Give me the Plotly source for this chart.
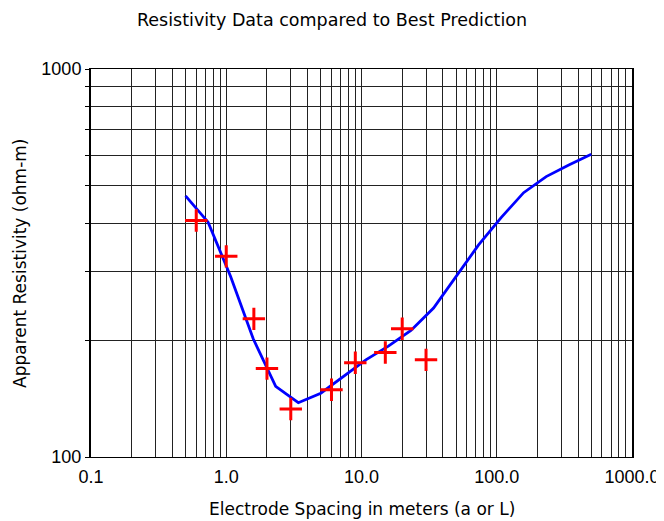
import plotly.graph_objects as go

# measured data (red crosses)
spacing = [0.6, 1.0, 1.6, 2.0, 3.0, 6.0, 9.0, 15.0, 20.0, 30.0]
resistivity = [407, 329, 227, 169, 133, 149, 175, 186, 214, 178]

# best prediction (blue line)
pred_spacing = [0.5, 0.734, 1.077, 1.58, 2.32, 3.41, 5.0, 7.34, 10.77, 15.8,
                23.2, 34.1, 50.0, 73.4, 107.7, 158, 232, 341, 500]
pred_resistivity = [471, 403, 292, 202, 152, 138, 146, 161, 178, 193,
                    212, 242, 291, 352, 414, 480, 528, 566, 603]

mults = [m for e in range(-1, 3) for m in range(1, 10)] + [1]
x_ticks = [m * 10.0 ** e for e in range(-1, 3) for m in range(1, 10)] + [1000.0]
x_text = [("%.1f" % v) if m == 1 else "" for v, m in zip(x_ticks, mults)]
y_ticks = list(range(100, 1001, 100))
y_text = ["100"] + [""] * 8 + ["1000"]

font = "Liberation Sans, Arial, sans-serif"
label_font = "DejaVu Sans, sans-serif"

# the page body adds an 8px margin, so the figure is 8px smaller each way
W, H = 656, 513

fig = go.Figure()

fig.add_trace(go.Scatter(
    x=pred_spacing, y=pred_resistivity,
    mode="lines",
    line=dict(color="#0000ff", width=2.8),
    showlegend=False,
))

fig.add_trace(go.Scatter(
    x=spacing, y=resistivity,
    mode="markers",
    marker=dict(symbol="cross-thin", size=16,
                line=dict(color="#ff0000", width=3)),
    showlegend=False,
))

fig.update_layout(
    width=W, height=H,
    paper_bgcolor="white", plot_bgcolor="white",
    margin=dict(l=83, r=32, t=61, b=64, pad=0),
    font=dict(family=font, color="black"),
    title=dict(text="Resistivity Data compared to Best Prediction",
               x=324 / W, xref="container", xanchor="center",
               y=1 - 12 / H, yref="container", yanchor="middle",
               font=dict(size=17.5, family=label_font)),
    annotations=[
        dict(text="Electrode Spacing in meters (a or L)",
             x=0.5, xref="paper", y=0, yref="paper", yshift=-52,
             showarrow=False, font=dict(size=17, family=label_font),
             xanchor="center", yanchor="middle"),
        dict(text="Apparent Resistivity (ohm-m)",
             x=0, xref="paper", y=0.5, yref="paper", xshift=-71,
             showarrow=False, font=dict(size=17, family=label_font),
             textangle=-90, xanchor="center", yanchor="middle"),
    ],
)

fig.update_xaxes(
    type="log", range=[-1, 3], automargin=False,
    tickvals=x_ticks, ticktext=x_text,
    tickfont=dict(size=18), ticklabelstandoff=3,
    showgrid=True, gridcolor="#222", gridwidth=1,
    showline=True, linecolor="black", linewidth=1, mirror=True,
    ticks="", zeroline=False,
)

fig.update_yaxes(
    type="log", range=[2, 3], automargin=False,
    tickvals=y_ticks, ticktext=y_text,
    tickfont=dict(size=18),
    showgrid=True, gridcolor="#222", gridwidth=1,
    showline=True, linecolor="black", linewidth=2, mirror=True,
    ticks="outside", ticklen=4, tickcolor="black",
    zeroline=False,
)

fig.write_html("out.html")
